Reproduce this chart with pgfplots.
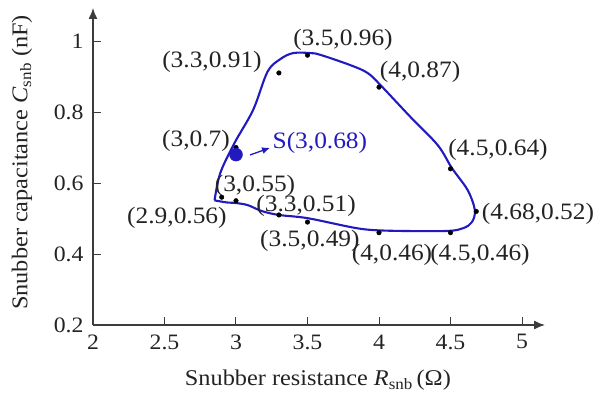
\documentclass[border=0pt]{standalone}
\usepackage{fontspec}
\setmainfont{Liberation Serif}[FakeStretch=1.08]
\usepackage{pgfplots}
\pgfplotsset{compat=1.18}
\usetikzlibrary{arrows.meta}
\definecolor{curveblue}{RGB}{34,26,190}
\definecolor{axisgray}{RGB}{60,60,60}
\definecolor{labelgray}{RGB}{35,35,35}
\newcommand{\tickfont}{\fontsize{22}{24}\selectfont}
\newcommand{\lblfont}{\fontsize{23.5}{26}\selectfont}
\newcommand{\titlefont}{\fontsize{22.5}{25}\selectfont}

\begin{document}
\begin{tikzpicture}
\begin{axis}[
  x=143pt, y=355pt,
  xmin=2, xmax=5.161, ymin=0.2, ymax=1.093,
  axis lines=left,
  axis line style={axisgray, line width=1.3pt, -{Latex[length=11pt,width=9pt]}},
  xtick={2,2.5,3,3.5,4,4.5,5},
  ytick={0.2,0.4,0.6,0.8,1},
  tick align=inside,
  major tick length=8pt,
  tick style={axisgray, line width=1pt},
  clip=false,
  /pgf/number format/assume math mode=true,
  ticklabel style={font=\tickfont, text=labelgray},
  xticklabel style={yshift=-6pt},
  yticklabel style={xshift=-6pt},
]
% operating region boundary
\addplot[curveblue, line width=2.1pt, smooth, tension=0.55] coordinates {
  (2.85,0.551) (2.89,0.628) (2.99,0.713) (3.12,0.806) (3.22,0.913)
  (3.31,0.949) (3.40,0.966) (3.52,0.966) (3.59,0.961) (3.80,0.932)
  (3.92,0.910) (4.01,0.876) (4.22,0.786) (4.41,0.707) (4.51,0.642)
  (4.62,0.580) (4.67,0.524) (4.65,0.490) (4.59,0.473) (4.48,0.465)
  (4.15,0.465) (3.94,0.468) (3.80,0.476) (3.50,0.501) (3.30,0.510)
  (3.18,0.521) (3.08,0.538) (2.99,0.544) (2.94,0.545) (2.85,0.551)
};
% measured boundary points
\addplot[only marks, mark=*, mark size=2.3pt, black] coordinates {
  (2.9,0.56) (3,0.7) (3.3,0.91) (3.5,0.96) (4,0.87) (4.5,0.64)
  (4.68,0.52) (4.5,0.46) (4,0.46) (3.5,0.49) (3.3,0.51) (3,0.55)
};
% selected design point
\addplot[only marks, mark=*, mark size=6.5pt, curveblue] coordinates {(3,0.68)};
\draw[curveblue, line width=1.3pt, -{Latex[length=8pt,width=7pt]}]
  (axis cs:3.098,0.679) -- (axis cs:3.238,0.699);
\node[anchor=west, inner sep=0pt, text=curveblue, font=\lblfont] at (axis cs:3.255,0.713) {S(3,0.68)};

\begin{scope}[every node/.style={inner sep=0pt, text=labelgray, font=\lblfont}]
\node at (axis cs:2.832,0.941) {(3.3,0.91)};
\node at (axis cs:3.748,1.003) {(3.5,0.96)};
\node at (axis cs:4.287,0.913) {(4,0.87)};
\node at (axis cs:4.832,0.693) {(4.5,0.64)};
\node at (axis cs:5.112,0.513) {(4.68,0.52)};
\node at (axis cs:4.706,0.397) {(4.5,0.46)};
\node at (axis cs:4.091,0.397) {(4,0.46)};
\node at (axis cs:3.517,0.437) {(3.5,0.49)};
\node at (axis cs:3.490,0.535) {(3.3,0.51)};
\node at (axis cs:3.133,0.592) {(3,0.55)};
\node at (axis cs:2.587,0.501) {(2.9,0.56)};
\node at (axis cs:2.720,0.718) {(3,0.7)};
\end{scope}

% axis titles
\node[inner sep=0pt, text=labelgray, font=\titlefont] at (axis cs:3.573,0.045)
  {Snubber resistance \textit{R}\textsubscript{snb}\,(Ω)};
\node[inner sep=0pt, text=labelgray, font=\titlefont, rotate=90] at (axis cs:1.503,0.658)
  {Snubber capacitance \textit{C}\textsubscript{snb} (nF)};

\coordinate (bl) at (axis cs:1.3497,-0.0141);
\coordinate (tr) at (axis cs:5.5944,1.1155);
\end{axis}
\pgfresetboundingbox
\path[use as bounding box] (bl) rectangle (tr);
\end{tikzpicture}
\end{document}
